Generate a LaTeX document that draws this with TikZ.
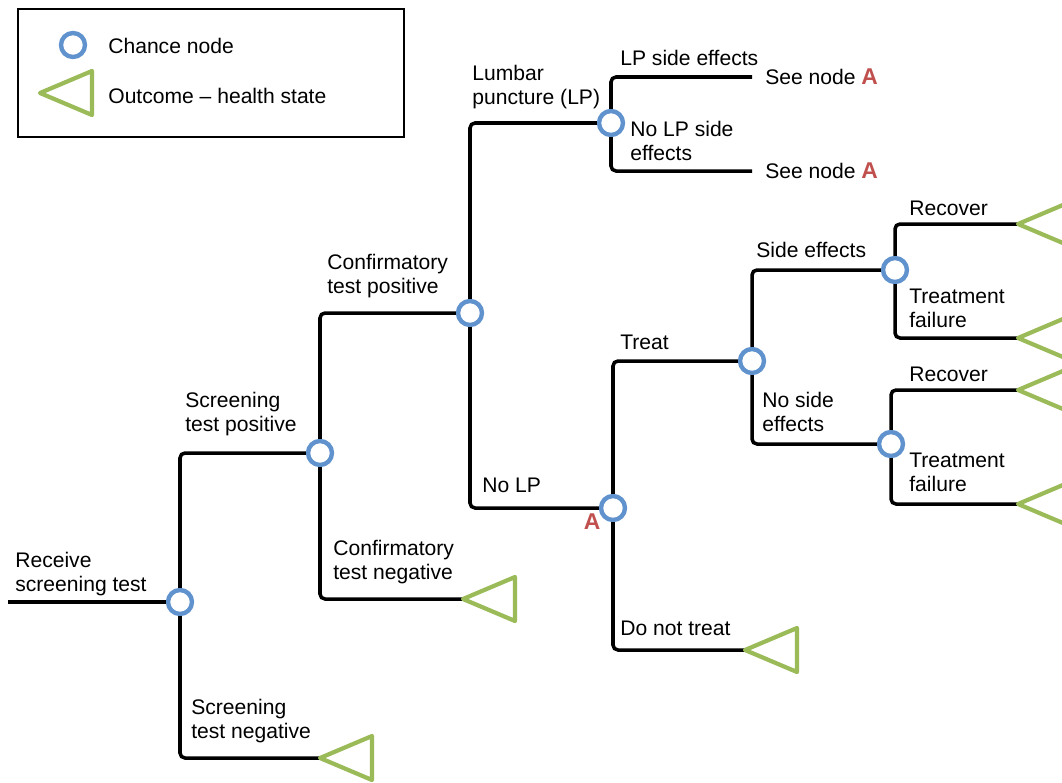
\documentclass[tikz,border=0pt]{standalone}
\usepackage{fontspec}
\setmainfont{Liberation Sans}
\usepackage{xcolor}
\usetikzlibrary{positioning,arrows.meta}
\definecolor{chanceblue}{RGB}{96,146,206}
\definecolor{outgreen}{RGB}{155,187,89}
\definecolor{nodered}{RGB}{192,80,77}
\tikzset{
  chance/.style={draw=chanceblue, line width=2.5pt, circle, fill=white, minimum size=0.48cm, inner sep=0pt},
  branch/.style={line width=2pt, rounded corners=1mm},
  outcome/.style={draw=outgreen, line width=2.4pt, line join=round},
  lbl/.style={anchor=west, align=left, inner sep=0pt, font=\fontsize{12}{13.6}\selectfont},
}
\newcommand{\nodeA}{\textcolor{nodered}{\fontsize{13}{13.6}\selectfont\textbf{A}}}

\begin{document}
\begin{tikzpicture}[x=0.02cm, y=-0.02cm]
    \useasboundingbox (0,0) rectangle (1062,782);

    % legend
    \node[draw, line width=1.3pt, minimum width=7.72cm, minimum height=2.56cm] (legend) at (211,73) {};
    \node[chance] (legchance) at (73,45) {};
    \coordinate (legtip) at (40,93);
    \draw[outcome] (legtip) -- ++(52,22) -- ++(0,-44) -- cycle;
    \node[lbl] (legchancetxt) at (108,46) {Chance node};
    \node[lbl] (legouttxt) at (108,96) {Outcome -- health state};

    % chance nodes
    \node[chance] (c1) at (180,602) {};
    \node[chance] (c2) at (320,453) {};
    \node[chance] (c3) at (470,313) {};
    \node[chance] (c4) at (611,123) {};
    \node[chance] (c5) at (613,508) {};
    \node[chance] (c6) at (752,361) {};
    \node[chance] (c7) at (895,270) {};
    \node[chance] (c8) at (891,444) {};

    % outcome tips
    \coordinate (start) at (8,602);
    \coordinate (t1) at (320,758);
    \coordinate (t2) at (463,599);
    \coordinate (t3) at (745,650);
    \coordinate (t4) at (1018,224);
    \coordinate (t5) at (1018,338);
    \coordinate (t6) at (1018,390);
    \coordinate (t7) at (1018,504);

    \node[lbl, inner xsep=0.26cm] (see1) at (752,77) {See node \nodeA};
    \node[lbl, inner xsep=0.26cm] (see2) at (752,171) {See node \nodeA};

    % branches
    \draw[branch] (start) -- (c1);
    \draw[branch] (c1) |- (c2);
    \draw[branch] (c1) |- (t1);
    \draw[branch] (c2) |- (c3);
    \draw[branch] (c2) |- (t2);
    \draw[branch] (c3) |- (c4);
    \draw[branch] (c3) |- (c5);
    \draw[branch] (c4) |- (see1);
    \draw[branch] (c4) |- (see2);
    \draw[branch] (c5) |- (c6);
    \draw[branch] (c5) |- (t3);
    \draw[branch] (c6) |- (c7);
    \draw[branch] (c6) |- (c8);
    \draw[branch] (c7) |- (t4);
    \draw[branch] (c7) |- (t5);
    \draw[branch] (c8) |- (t6);
    \draw[branch] (c8) |- (t7);

    % triangles
    \foreach \t in {t1,t2,t3,t4,t5,t6,t7}
        \draw[outcome] (\t) -- ++(52,22) -- ++(0,-44) -- cycle;

    % labels
    \node[lbl] (receive) at (15,574) {Receive\\screening test};
    \node[lbl] (scrpos) at (185,414) {Screening\\test positive};
    \node[lbl] (scrneg) at (191,721) {Screening\\test negative};
    \node[lbl] (confpos) at (327,276) {Confirmatory\\test positive};
    \node[lbl] (confneg) at (333,562) {Confirmatory\\test negative};
    \node[lbl] (lumbar) at (472,87) {Lumbar\\puncture (LP)};
    \node[lbl] (nolp) at (482,485) {No LP};
    \node[lbl] (lpse) at (620,58) {LP side effects};
    \node[lbl] (nolpse) at (630,141) {No LP side\\effects};
    \node[lbl] (treat) at (620,342) {Treat};
    \node[lbl] (notreat) at (620,628) {Do not treat};
    \node[lbl] (sideeff) at (756,250) {Side effects};
    \node[lbl] (noside) at (762,412) {No side\\effects};
    \node[lbl] (recover1) at (909,208) {Recover};
    \node[lbl] (fail1) at (909,308) {Treatment\\failure};
    \node[lbl] (recover2) at (909,374) {Recover};
    \node[lbl] (fail2) at (909,472) {Treatment\\failure};
    \node[lbl, anchor=center] (labelA) at (592,522) {\nodeA};
\end{tikzpicture}
\end{document}
